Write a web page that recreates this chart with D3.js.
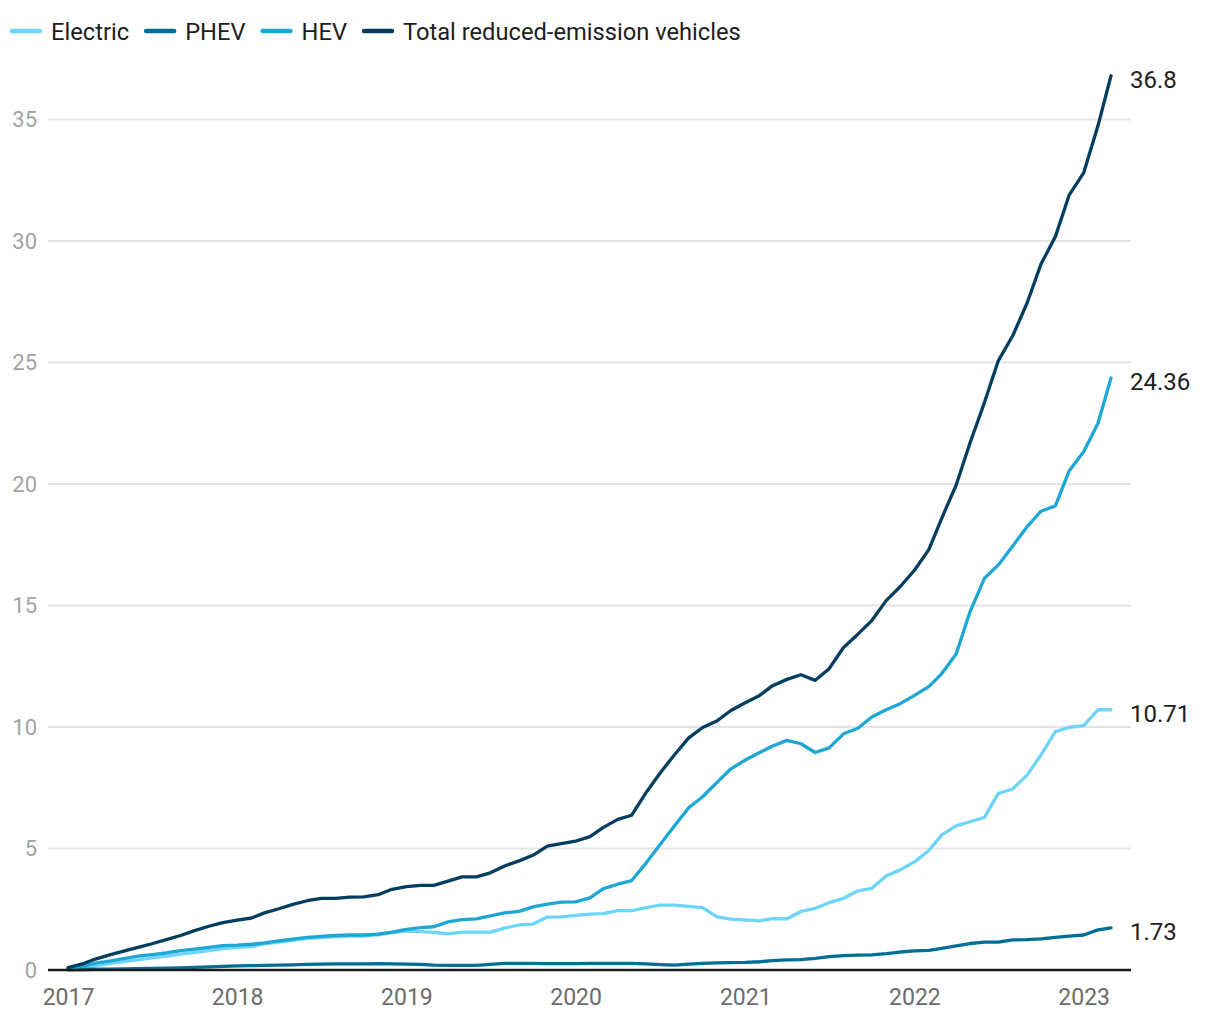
<!DOCTYPE html>
<html>
<head>
<meta charset="utf-8">
<script src="https://cdn.jsdelivr.net/npm/d3@7"></script>
<style>
  html, body { margin: 0; padding: 0; background: #ffffff; }
  svg { display: block; font-family: Roboto, "Noto Sans", sans-serif; }
</style>
</head>
<body>
<svg id="chart" width="1220" height="1020"></svg>
<script>
// Monthly data, Jan 2017 – Mar 2023
const startYear = 2017;
const monthCount = 75;
const seriesNames = ["Electric", "PHEV", "HEV", "Total reduced-emission vehicles"];
const electric = [0.03,0.10,0.18,0.26,0.34,0.42,0.50,0.57,0.65,0.73,0.80,0.88,
  0.93,0.96,1.08,1.15,1.22,1.30,1.33,1.37,1.40,1.40,1.45,1.54,
  1.60,1.58,1.55,1.49,1.56,1.56,1.56,1.72,1.86,1.89,2.18,2.19,
  2.25,2.30,2.32,2.44,2.44,2.57,2.67,2.67,2.62,2.57,2.19,2.09,
  2.06,2.02,2.11,2.11,2.41,2.54,2.77,2.95,3.26,3.36,3.87,4.12,
  4.45,4.92,5.56,5.93,6.10,6.28,7.27,7.45,8.02,8.85,9.81,9.99,
  10.06,10.71,10.71];
const phev = [0.01,0.02,0.03,0.04,0.05,0.06,0.07,0.08,0.09,0.11,0.13,0.15,
  0.17,0.18,0.19,0.20,0.21,0.23,0.24,0.25,0.25,0.25,0.26,0.25,
  0.24,0.23,0.20,0.19,0.19,0.19,0.23,0.27,0.27,0.27,0.26,0.26,
  0.26,0.27,0.27,0.27,0.27,0.25,0.22,0.20,0.24,0.27,0.29,0.30,
  0.31,0.34,0.39,0.42,0.43,0.48,0.55,0.59,0.61,0.62,0.67,0.74,
  0.79,0.81,0.89,0.99,1.09,1.15,1.15,1.24,1.25,1.28,1.34,1.39,
  1.44,1.65,1.73];
const hev = [0.05,0.15,0.28,0.37,0.47,0.57,0.63,0.70,0.80,0.86,0.93,1.00,
  1.02,1.06,1.12,1.20,1.27,1.34,1.38,1.42,1.44,1.44,1.48,1.56,
  1.67,1.74,1.78,1.98,2.07,2.10,2.23,2.35,2.41,2.60,2.71,2.79,
  2.80,2.97,3.35,3.53,3.68,4.40,5.15,5.93,6.68,7.13,7.72,8.28,
  8.64,8.95,9.22,9.45,9.31,8.95,9.14,9.72,9.95,10.41,10.71,10.96,
  11.30,11.66,12.20,13.00,14.75,16.12,16.67,17.45,18.24,18.88,19.10,20.55,
  21.33,22.50,24.36];
const total = [0.10,0.25,0.45,0.62,0.78,0.93,1.08,1.25,1.42,1.62,1.80,1.95,
  2.05,2.14,2.35,2.52,2.70,2.85,2.95,2.95,3.00,3.01,3.10,3.32,
  3.43,3.48,3.48,3.66,3.83,3.83,4.00,4.28,4.49,4.72,5.10,5.20,
  5.30,5.49,5.87,6.20,6.37,7.30,8.10,8.85,9.55,9.98,10.25,10.68,
  11.00,11.30,11.70,11.96,12.15,11.92,12.40,13.27,13.82,14.38,15.20,15.77,
  16.45,17.30,18.60,19.96,21.70,23.35,25.08,26.10,27.45,29.05,30.18,31.90,
  32.80,34.75,36.80];
const endLabels = ["10.71", "1.73", "24.36", "36.8"];
const yTicks = [0, 5, 10, 15, 20, 25, 30, 35];
const xTickYears = [2017, 2018, 2019, 2020, 2021, 2022, 2023];

const colors = ["#6dd5fb", "#006f98", "#1ca7d4", "#033e60"];

const months = d3.range(monthCount).map(i => new Date(Date.UTC(startYear, i, 1)));
const seriesValues = [electric, phev, hev, total];

const svg = d3.select("#chart");

const x = d3.scaleUtc()
  .domain([months[0], months[months.length - 1]])
  .range([68, 1111]);
const y = d3.scaleLinear().domain([0, 35]).range([970, 119.5]);

const plotLeft = 48, plotRight = 1131;

// gridlines
const grid = svg.append("g");
grid.selectAll("line").data(yTicks.filter(d => d > 0)).join("line")
  .attr("x1", plotLeft).attr("x2", plotRight)
  .attr("y1", d => y(d)).attr("y2", d => y(d))
  .attr("stroke", "#e4e4e4").attr("stroke-width", 2);

// y labels
svg.append("g").selectAll("text").data(yTicks).join("text")
  .attr("x", 37).attr("y", d => y(d))
  .attr("text-anchor", "end").attr("dominant-baseline", "central")
  .attr("font-size", 22).attr("fill", "#a3a3a3")
  .text(d => d);

// x axis labels
const xAxis = d3.axisBottom(x)
  .tickValues(xTickYears.map(yr => new Date(Date.UTC(yr, 0, 1))))
  .tickFormat(d3.utcFormat("%Y"))
  .tickSize(0).tickPadding(0);
const xg = svg.append("g").attr("transform", "translate(0,970)").call(xAxis);
xg.select(".domain").remove();
xg.selectAll("text")
  .attr("y", 27).attr("dy", null)
  .attr("dominant-baseline", "central")
  .attr("font-size", 23).attr("font-family", "Roboto, sans-serif")
  .attr("fill", "#6b6b6b");

// lines
const line = d3.line()
  .x((d, i) => x(months[i]))
  .y(d => y(d));

svg.append("g").selectAll("path").data(seriesValues).join("path")
  .attr("d", d => line(d))
  .attr("fill", "none")
  .attr("stroke", (d, i) => colors[i])
  .attr("stroke-width", 3.3)
  .attr("stroke-linejoin", "round")
  .attr("stroke-linecap", "round");

// baseline
svg.append("line")
  .attr("x1", plotLeft).attr("x2", plotRight)
  .attr("y1", y(0)).attr("y2", y(0))
  .attr("stroke", "#1a1a1a").attr("stroke-width", 2.5);

// end labels
svg.append("g").selectAll("text").data(seriesValues).join("text")
  .attr("x", 1130)
  .attr("y", d => y(d[d.length - 1]) + 4)
  .attr("dominant-baseline", "central")
  .attr("font-size", 24).attr("fill", "#1d1d1d")
  .text((d, i) => endLabels[i]);

// legend
const legend = svg.append("g");
let lx = 12;
seriesNames.forEach((name, i) => {
  legend.append("line")
    .attr("x1", lx).attr("x2", lx + 28)
    .attr("y1", 31).attr("y2", 31)
    .attr("stroke", colors[i]).attr("stroke-width", 4.5)
    .attr("stroke-linecap", "round");
  const t = legend.append("text")
    .attr("x", lx + 39).attr("y", 32)
    .attr("dominant-baseline", "central")
    .attr("font-size", 23.7).attr("fill", "#1d1d1d")
    .text(name);
  lx += 39 + t.node().getComputedTextLength() + 17;
});
</script>
</body>
</html>
